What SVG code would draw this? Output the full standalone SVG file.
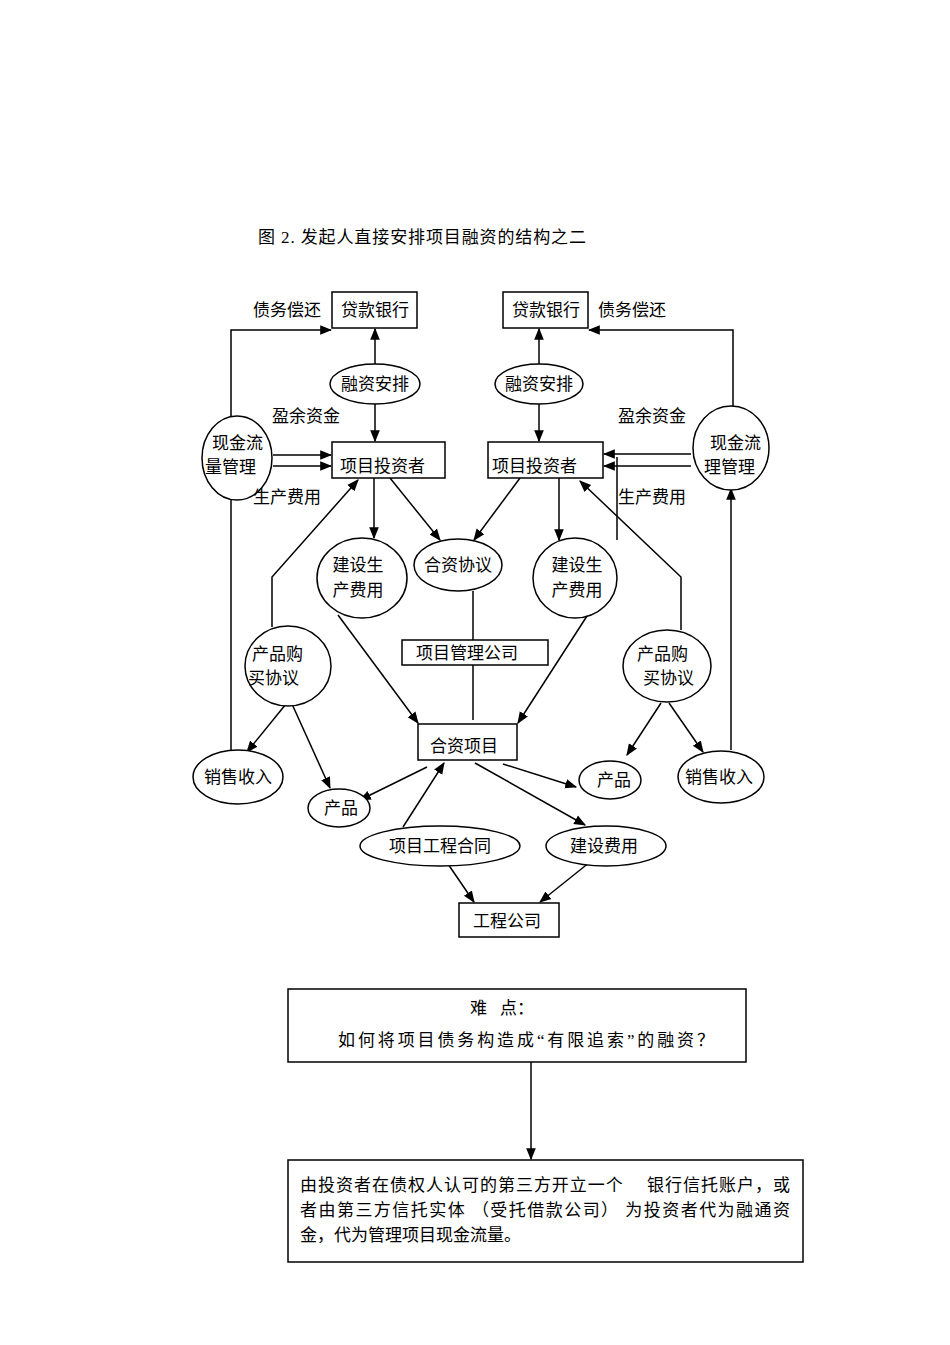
<svg xmlns="http://www.w3.org/2000/svg" width="950" height="1345" viewBox="0 0 950 1345">
<style>
text{font-family:"Liberation Serif","Noto Sans CJK SC",serif;font-size:17px;fill:#000}
.b{fill:#fff;stroke:#000;stroke-width:1.5}
.l{fill:none;stroke:#000;stroke-width:1.5}
.a{marker-end:url(#ar)}
.m{text-anchor:middle}
</style>
<defs><marker id="ar" viewBox="0 0 10 10" refX="9" refY="5" markerWidth="8" markerHeight="8" orient="auto"><path d="M0,1L10,5L0,9z" fill="#000"/></marker></defs>
<rect width="950" height="1345" fill="#fff"/>
<text x="258" y="243" textLength="328">图 2. 发起人直接安排项目融资的结构之二</text>
<g id="connectors">
<path class="l a" d="M231,417V330H331"/>
<path class="l a" d="M733,417V330H589"/>
<path class="l a" d="M375,364V329"/>
<path class="l a" d="M539,364V329"/>
<path class="l a" d="M375,404V441"/>
<path class="l a" d="M539,404V441"/>
<path class="l a" d="M273,455H331"/>
<path class="l a" d="M273,466H331"/>
<path class="l a" d="M691,454H604"/>
<path class="l a" d="M691,466H604"/>
<path class="l" d="M617,457V540"/>
<path class="l a" d="M374,478V538"/>
<path class="l a" d="M390,478L440,540"/>
<path class="l a" d="M520,478L474,540"/>
<path class="l a" d="M559,478V540"/>
<path class="l" d="M473,591V720"/>
<path class="l a" d="M338,615L418,723"/>
<path class="l a" d="M587,616L518,723"/>
<path class="l a" d="M272,627V577L358,480"/>
<path class="l a" d="M681,630V577L580,481"/>
<path class="l a" d="M231,752V481"/>
<path class="l a" d="M731,750V489"/>
<path class="l a" d="M286,704L247,752"/>
<path class="l a" d="M292,704L330,788"/>
<path class="l a" d="M661,703L627,755"/>
<path class="l a" d="M669,703L703,752"/>
<path class="l a" d="M427,767L360,800"/>
<path class="l a" d="M403,827L444,763"/>
<path class="l a" d="M503,764L576,787"/>
<path class="l a" d="M475,763L585,825"/>
<path class="l a" d="M448,864L474,902"/>
<path class="l a" d="M590,862L540,902"/>
<path class="l a" d="M531,1062V1159"/>
</g>
<g id="bankL"><rect class="b" x="332" y="292" width="85" height="36"/><text class="m" x="375" y="316">贷款银行</text></g>
<g id="bankR"><rect class="b" x="503" y="292" width="85" height="36"/><text class="m" x="546" y="316">贷款银行</text></g>
<text x="253" y="316">债务偿还</text>
<text x="598" y="316">债务偿还</text>
<g id="rzL"><ellipse class="b" cx="375" cy="384" rx="45" ry="20"/><text class="m" x="375" y="390">融资安排</text></g>
<g id="rzR"><ellipse class="b" cx="539" cy="384" rx="44" ry="20"/><text class="m" x="539" y="390">融资安排</text></g>
<text x="272" y="422">盈余资金</text>
<text x="618" y="422">盈余资金</text>
<g id="invL"><rect class="b" x="332" y="442" width="113" height="36"/><text x="340" y="472">项目投资者</text></g>
<g id="invR"><rect class="b" x="488" y="442" width="115" height="36"/><text x="492" y="472">项目投资者</text></g>
<g id="cashL"><ellipse class="b" cx="237" cy="458" rx="35" ry="42"/><text x="212" y="449">现金流</text><text x="205" y="473">量管理</text></g>
<g id="cashR"><ellipse class="b" cx="731" cy="448" rx="38" ry="42"/><text x="710" y="449">现金流</text><text x="704" y="473">理管理</text></g>
<text x="253" y="503">生产费用</text>
<text x="618" y="503">生产费用</text>
<g id="jsL"><ellipse class="b" cx="362" cy="578" rx="45" ry="40"/><text class="m" x="358" y="571">建设生</text><text class="m" x="358" y="596">产费用</text></g>
<g id="hzxy"><ellipse class="b" cx="458" cy="565" rx="44" ry="26"/><text class="m" x="458" y="571">合资协议</text></g>
<g id="jsR"><ellipse class="b" cx="575" cy="578" rx="42" ry="40"/><text class="m" x="577" y="571">建设生</text><text class="m" x="577" y="596">产费用</text></g>
<g id="glgs"><rect class="b" x="402" y="640" width="146" height="25"/><text x="416" y="659">项目管理公司</text></g>
<g id="cpL"><ellipse class="b" cx="288" cy="666" rx="43" ry="40"/><text x="252" y="660">产品购</text><text x="248" y="684">买协议</text></g>
<g id="cpR"><ellipse class="b" cx="667" cy="666" rx="44" ry="36"/><text x="637" y="660">产品购</text><text x="643" y="684">买协议</text></g>
<g id="hzxm"><rect class="b" x="418" y="724" width="99" height="36"/><text class="m" x="464" y="752">合资项目</text></g>
<g id="xsL"><ellipse class="b" cx="238" cy="777" rx="45" ry="27"/><text class="m" x="238" y="783">销售收入</text></g>
<g id="xsR"><ellipse class="b" cx="721" cy="777" rx="43" ry="26"/><text class="m" x="719" y="783">销售收入</text></g>
<g id="pL"><ellipse class="b" cx="339" cy="808" rx="31" ry="19"/><text class="m" x="341" y="814">产品</text></g>
<g id="pR"><ellipse class="b" cx="610" cy="780" rx="31" ry="19"/><text class="m" x="614" y="786">产品</text></g>
<g id="gcht"><ellipse class="b" cx="440" cy="846" rx="80" ry="20"/><text class="m" x="440" y="852">项目工程合同</text></g>
<g id="jsfy"><ellipse class="b" cx="606" cy="846" rx="60" ry="20"/><text class="m" x="604" y="852">建设费用</text></g>
<g id="gcgs"><rect class="b" x="459" y="903" width="100" height="34"/><text class="m" x="507" y="927">工程公司</text></g>
<g id="nd"><rect class="b" x="288" y="989" width="458" height="73"/><text x="470" y="1014">难</text><text x="500" y="1014">点：</text><text x="338" y="1046" textLength="376">如何将项目债务构造成“有限追索”的融资？</text></g>
<g id="fa"><rect class="b" x="288" y="1160" width="515" height="102"/>
<text x="300" y="1191" textLength="490">由投资者在债权人认可的第三方开立一个　 银行信托账户，或</text>
<text x="300" y="1216" textLength="490">者由第三方信托实体 （受托借款公司） 为投资者代为融通资</text>
<text x="300" y="1241">金，代为管理项目现金流量。</text></g>
</svg>
